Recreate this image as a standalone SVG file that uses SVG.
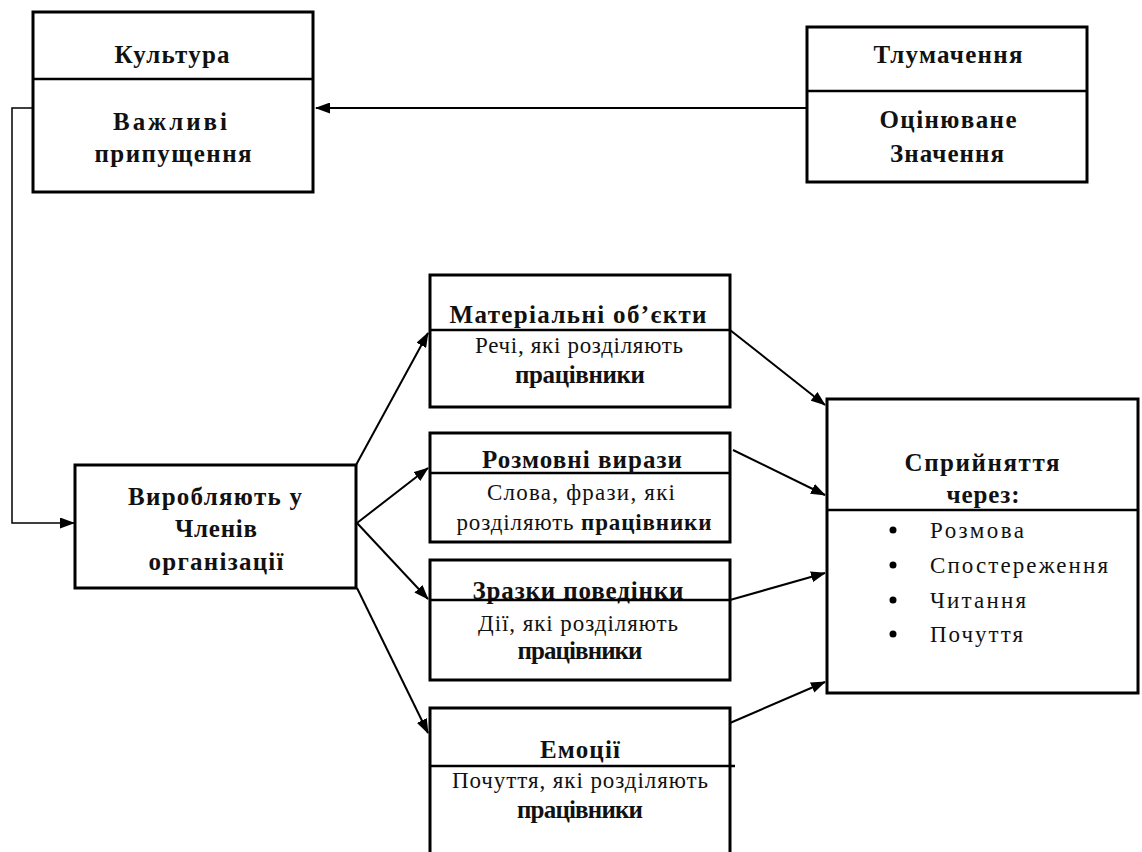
<svg xmlns="http://www.w3.org/2000/svg" width="1142" height="852" viewBox="0 0 1142 852">
<style>
  .box { fill: #ffffff; stroke: #000000; stroke-width: 3; }
  .div { stroke: #000000; stroke-width: 2.5; fill: none; }
  .t { font-family: "Liberation Serif", "DejaVu Serif", serif; font-size: 23px; fill: #111111; text-anchor: middle; }
  .b { font-weight: bold; font-size: 25px; }
  .l { text-anchor: start; }
  .con { stroke: #000000; stroke-width: 2; fill: none; }
  .thin { stroke-width: 1.5; }
</style>
<defs>
  <marker id="arr" markerUnits="userSpaceOnUse" markerWidth="15" markerHeight="11" refX="14" refY="5.5" orient="auto">
    <path d="M0,0 L15,5.5 L0,11 z" fill="#000000"/>
  </marker>
</defs>
<rect width="1142" height="852" fill="#ffffff"/>

<g id="connectors">
  <line class="con" x1="807" y1="108" x2="316" y2="108" marker-end="url(#arr)"/>
  <polyline class="con thin" points="33,108 12,108 12,523 74,523" marker-end="url(#arr)"/>
  <line class="con" x1="356" y1="465" x2="428" y2="333" marker-end="url(#arr)"/>
  <line class="con" x1="357" y1="523" x2="428" y2="468" marker-end="url(#arr)"/>
  <line class="con" x1="357" y1="523" x2="428" y2="599" marker-end="url(#arr)"/>
  <line class="con" x1="357" y1="588" x2="428" y2="733" marker-end="url(#arr)"/>
  <line class="con" x1="730" y1="330" x2="825" y2="405" marker-end="url(#arr)"/>
  <line class="con" x1="733" y1="450" x2="825" y2="495" marker-end="url(#arr)"/>
  <line class="con" x1="730" y1="600" x2="825" y2="573" marker-end="url(#arr)"/>
  <line class="con" x1="730" y1="723" x2="825" y2="682" marker-end="url(#arr)"/>
</g>

<g id="kultura">
  <rect class="box" x="33" y="12" width="280" height="180"/>
  <line class="div" x1="33" y1="79" x2="313" y2="79"/>
  <text class="t b" x="172" y="63" textLength="115">Культура</text>
  <text class="t b" x="170" y="130" textLength="114">Важливі</text>
  <text class="t b" x="173" y="162" textLength="157">припущення</text>
</g>

<g id="tlumachennia">
  <rect class="box" x="807" y="27" width="280" height="155"/>
  <line class="div" x1="807" y1="91" x2="1087" y2="91"/>
  <text class="t b" x="948" y="63" textLength="149">Тлумачення</text>
  <text class="t b" x="948" y="128" textLength="137">Оцінюване</text>
  <text class="t b" x="947" y="162" textLength="114">Значення</text>
</g>

<g id="vyrobliaiut">
  <rect class="box" x="75" y="465" width="281" height="123"/>
  <text class="t b" x="215" y="505" textLength="174">Виробляють у</text>
  <text class="t b" x="216" y="537" textLength="82">Членів</text>
  <text class="t b" x="216" y="570" textLength="135">організації</text>
</g>

<g id="materialni">
  <rect class="box" x="430" y="275" width="300" height="132"/>
  <line class="div" x1="430" y1="330" x2="730" y2="330"/>
  <text class="t b" x="578" y="323" textLength="257">Матеріальні об’єкти</text>
  <text class="t" x="579" y="353" textLength="208">Речі, які розділяють</text>
  <text class="t b" x="580" y="383" textLength="130">працівники</text>
</g>

<g id="rozmovni">
  <rect class="box" x="430" y="433" width="300" height="109"/>
  <line class="div" x1="430" y1="473" x2="730" y2="473"/>
  <text class="t b" x="582" y="468" textLength="200">Розмовні вирази</text>
  <text class="t" x="581" y="500" textLength="188">Слова, фрази, які</text>
  <text class="t" x="584" y="530" textLength="255">розділяють <tspan font-weight="bold">працівники</tspan></text>
</g>

<g id="zrazky">
  <rect class="box" x="430" y="560" width="300" height="120"/>
  <text class="t b" x="578" y="599" textLength="211">Зразки поведінки</text>
  <line class="div" x1="430" y1="600" x2="730" y2="600"/>
  <text class="t" x="578" y="631" textLength="200">Дії, які розділяють</text>
  <text class="t b" x="580" y="659" textLength="125">працівники</text>
</g>

<g id="emotsii">
  <rect class="box" x="430" y="708" width="300" height="170"/>
  <line class="div" x1="430" y1="766" x2="735" y2="766"/>
  <text class="t b" x="580" y="758" textLength="80">Емоції</text>
  <text class="t" x="580" y="788" textLength="256">Почуття, які розділяють</text>
  <text class="t b" x="580" y="818" textLength="126">працівники</text>
</g>

<g id="spryiniattia">
  <rect class="box" x="827" y="399" width="311" height="294"/>
  <line class="div" x1="827" y1="510" x2="1138" y2="510"/>
  <text class="t b" x="982" y="471" textLength="155">Сприйняття</text>
  <text class="t b" x="983" y="503" textLength="73">через:</text>
  <circle cx="893" cy="530" r="3.5" fill="#000"/>
  <circle cx="893" cy="565" r="3.5" fill="#000"/>
  <circle cx="893" cy="600" r="3.5" fill="#000"/>
  <circle cx="893" cy="634" r="3.5" fill="#000"/>
  <text class="t l" x="930" y="538" textLength="94">Розмова</text>
  <text class="t l" x="930" y="573" textLength="178">Спостереження</text>
  <text class="t l" x="930" y="608" textLength="96">Читання</text>
  <text class="t l" x="930" y="642" textLength="93">Почуття</text>
</g>
</svg>
